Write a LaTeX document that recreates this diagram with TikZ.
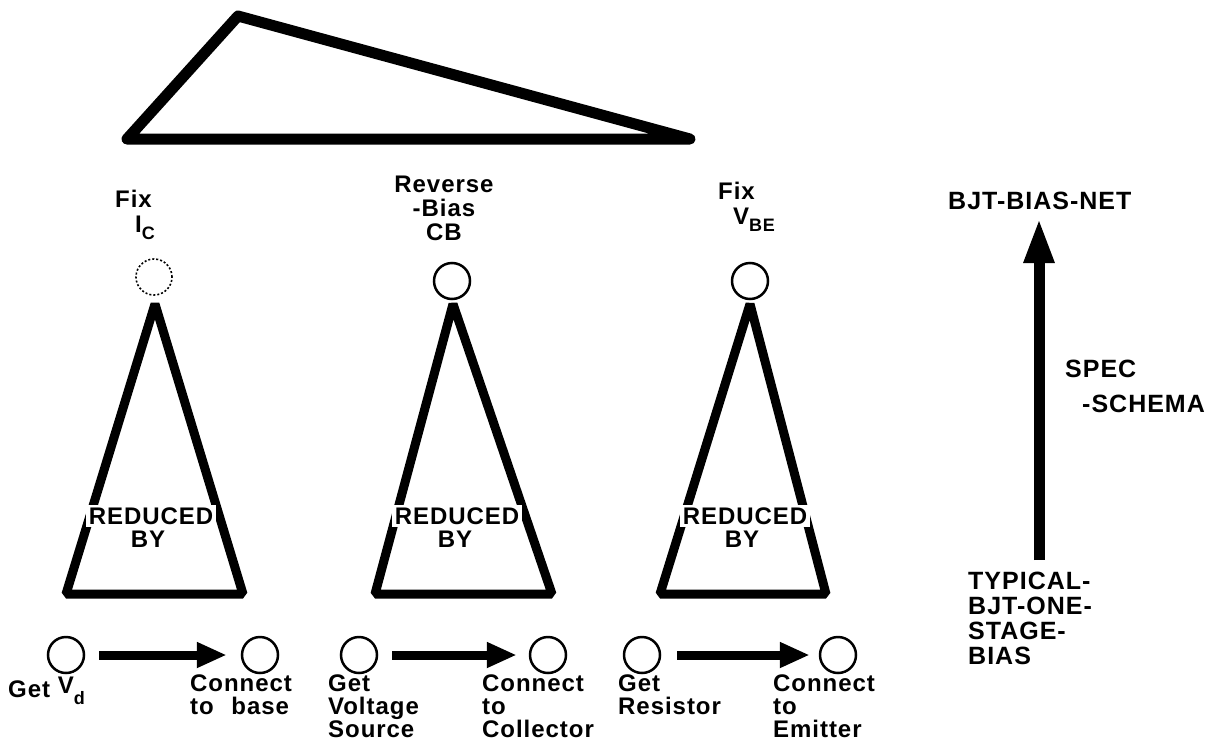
\documentclass[tikz,border=0pt]{standalone}
\usepackage{fontspec}
\setmainfont[LetterSpace=4]{Liberation Sans}
\usetikzlibrary{arrows.meta}
\newcommand\fs{\fontsize{24}{23}\selectfont\bfseries}
\newcommand\sbs[1]{\raisebox{-7pt}{\fontsize{18}{18}\selectfont #1}}
\begin{document}
\begin{tikzpicture}[x=1pt,y=-1pt,
  lbl/.style={font=\fs, align=left, inner sep=0pt, anchor=north west},
  clbl/.style={font=\fs, align=center, inner sep=0pt, anchor=north},
  goal/.style={circle, draw, line width=2.5pt, minimum size=36pt, inner sep=0pt},
  cone/.style={line width=9pt, line join=bevel},
  flow/.style={line width=9pt, -{Triangle[length=30pt,width=24pt]}},
  rb/.style={font=\fs, fill=white, inner sep=2.5pt, anchor=north},
]
\useasboundingbox (0,0) rectangle (1212,747);

% top triangle
\draw[line width=11pt, line join=round] (127,139) -- (238,16) -- (690,139) -- cycle;

% top goals
\node[goal, dash pattern=on 2pt off 2pt, line width=1.6pt] (g1) at (154,277) {};
\node[goal] (g2) at (452,281) {};
\node[goal] (g3) at (750,281) {};

\node[lbl] (t1) at (115,190) {Fix\\[2pt]\hspace*{20pt}I\sbs{C}};
\node[clbl, font=\fontsize{24}{24}\selectfont\bfseries] (t2) at (444,176) {Reverse\\-Bias\\CB};
\node[lbl] (t3) at (718,182) {Fix\\[2pt]\hspace*{15pt}V\sbs{BE}};

% cones
\draw[cone] (155,304) -- (243,594) -- (66,594) -- cycle;
\draw[cone] (453,304) -- (552,594) -- (375,594) -- cycle;
\draw[cone] (750,304) -- (826,594) -- (660,594) -- cycle;

\node[rb] (r1) at (151,505) {REDUCED};
\node[rb] (r2) at (457,505) {REDUCED};
\node[rb] (r3) at (745,505) {REDUCED};
\node[clbl] (b1) at (148,531) {BY};
\node[clbl] (b2) at (455,531) {BY};
\node[clbl] (b3) at (742,531) {BY};

% bottom plan steps
\node[goal] (c1) at (66,655) {};
\node[goal] (c2) at (260,655) {};
\node[goal] (c3) at (359,655) {};
\node[goal] (c4) at (548,655) {};
\node[goal] (c5) at (642,655) {};
\node[goal] (c6) at (838,655) {};

\draw[flow, shorten <=14pt, shorten >=14pt] (c1) -- (c2);
\draw[flow, shorten <=14pt, shorten >=12pt] (c3) -- (c4);
\draw[flow, shorten <=16pt, shorten >=9pt] (c5) -- (c6);

\node[lbl] (l1) at (8,677) {Get \raisebox{4pt}{V}\sbs{d}};
\node[lbl] (l2) at (190,675) {Connect\\to\hspace{10pt} base};
\node[lbl] (l3) at (328,675) {Get\\Voltage\\Source};
\node[lbl] (l4) at (482,675) {Connect\\to\\Collector};
\node[lbl] (l5) at (618,675) {Get\\Resistor};
\node[lbl] (l6) at (773,675) {Connect\\to\\Emitter};

% right side
\node[lbl, font=\fontsize{25}{25}\selectfont\bfseries] (net) at (948,192) {BJT-BIAS-NET};
\node[lbl, font=\fontsize{25}{25}\selectfont\bfseries] (typ) at (968,572) {TYPICAL-\\BJT-ONE-\\STAGE-\\BIAS};
\coordinate (abot) at (1039,560);
\coordinate (atop) at (1039,218);
\draw[line width=11pt, -{Triangle[length=45pt,width=28pt]}] (abot) -- (atop);
\node[lbl, font=\fontsize{25}{35}\selectfont\bfseries] (spec) at (1065,360) {SPEC\\\hspace*{17pt}-SCHEMA};
\end{tikzpicture}
\end{document}
